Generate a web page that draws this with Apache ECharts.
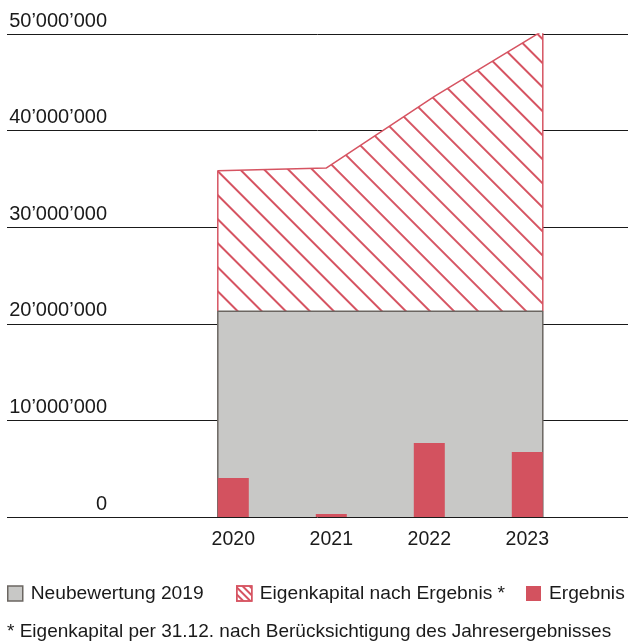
<!DOCTYPE html>
<html><head><meta charset="utf-8">
<script src="https://cdn.jsdelivr.net/npm/echarts@6/dist/echarts.min.js"></script>
<style>html,body{margin:0;padding:0;background:#fff}#c{width:628px;height:644px}</style>
</head><body><div id="c"></div>
<script>
// ---- data ----
const years = ['2020', '2021', '2022', '2023'];
const neubewertung2019 = 21300000;
const eigenkapital = [35840000, 36120000, 43550000, 50340000];
const ergebnis = [4040000, 310000, 7670000, 6730000];
const yTickMax = 50000000;
const yTickStep = 10000000;
const legendNames = ['Neubewertung 2019', 'Eigenkapital nach Ergebnis *', 'Ergebnis'];
const footnote = '* Eigenkapital per 31.12. nach Berücksichtigung des Jahresergebnisses';

// ---- layout helpers ----
const BAND = 98, BAR_W = 31;
const half = BAR_W / 2 / BAND;
const xl = -half, xr = years.length - 1 + half;
const step = (xr - xl) / (years.length - 1);
const hatchData = [[xl, neubewertung2019]]
  .concat(eigenkapital.map((v, i) => [xl + i * step, v]))
  .concat([[xr, neubewertung2019]]);
const grayData = [[xl, 0], [xl, neubewertung2019], [xr, neubewertung2019], [xr, 0]];

const RED = '#d65462', BARRED = '#d3525f', GRAY = '#c8c8c6', GRAYB = '#6b6661';
const TXT = '#1a1a1a';
const SANS = '"Liberation Sans", Arial, sans-serif';

function fmt(v) { return String(v).replace(/\B(?=(\d{3})+(?!\d))/g, '\u2019'); }

const hatchDecal = { symbol: 'rect', symbolSize: 1, color: RED, dashArrayX: [[1, 0]], dashArrayY: [1.1, 14.5], rotation: Math.PI / 4 };
const hatchDecalSmall = { symbol: 'rect', symbolSize: 1, color: RED, dashArrayX: [[1, 0]], dashArrayY: [1.2, 2.8], rotation: Math.PI / 4 };

const chart = echarts.init(document.getElementById('c'), null, { renderer: 'canvas' });
const legendText = { fontFamily: SANS, fontSize: 19.2, color: TXT, padding: [0, 0, 0, 3] };
const legendBase = { top: 584, padding: 0, itemWidth: 15, itemHeight: 15, selectedMode: false, textStyle: legendText };
chart.setOption({
  animation: false,
  backgroundColor: '#fff',
  grid: [
    { left: 7, right: 0, top: 34, bottom: 127 },
    { left: 184.3, right: 51.7, top: 34, bottom: 127 }
  ],
  xAxis: [
    { gridIndex: 0, type: 'value', min: 0, max: 1, show: false },
    { gridIndex: 1, type: 'category', data: years,
      axisLine: { show: false }, axisTick: { show: false },
      axisLabel: { fontFamily: SANS, fontSize: 19.5, color: TXT, margin: 13 } },
    { gridIndex: 1, type: 'value', min: -0.5, max: years.length - 0.5, show: false }
  ],
  yAxis: [
    { gridIndex: 0, type: 'value', min: 0, max: yTickMax, interval: yTickStep,
      axisLine: { show: false }, axisTick: { show: false },
      splitLine: { show: true, lineStyle: { color: '#1a1a1a', width: 1 } },
      axisLabel: { inside: true, margin: 100, align: 'right', verticalAlign: 'bottom',
        padding: [0, 0, 3, 0], fontFamily: SANS, fontSize: 20, color: TXT, formatter: fmt } },
    { gridIndex: 1, type: 'value', min: 0, max: yTickMax, show: false, splitLine: { show: false } }
  ],
  legend: [
    Object.assign({ left: 7, data: [{ name: legendNames[0], icon: 'rect', itemStyle: { color: GRAY, borderColor: GRAYB, borderWidth: 1.5 } }] }, legendBase),
    Object.assign({ left: 236, data: [{ name: legendNames[1], icon: 'rect', itemStyle: { color: '#fff', borderColor: RED, borderWidth: 1.5, decal: hatchDecalSmall } }] }, legendBase),
    Object.assign({ left: 526, data: [{ name: legendNames[2], icon: 'rect', itemStyle: { color: BARRED, borderWidth: 0 } }] }, legendBase)
  ],
  graphic: [
    { type: 'text', left: 7, top: 622, style: { text: footnote, font: '19px ' + SANS, fill: TXT } }
  ],
  series: [
    { name: legendNames[1], type: 'line', xAxisIndex: 2, yAxisIndex: 1, data: hatchData,
      symbol: 'none', showSymbol: false, silent: true, z: 2,
      lineStyle: { color: RED, width: 1.5 },
      itemStyle: { color: RED, decal: hatchDecal },
      areaStyle: { color: '#fff', opacity: 1 } },
    { name: legendNames[0], type: 'line', xAxisIndex: 2, yAxisIndex: 1, data: grayData,
      symbol: 'none', showSymbol: false, silent: true, z: 3,
      lineStyle: { color: GRAYB, width: 1.5 },
      itemStyle: { color: GRAY },
      areaStyle: { color: GRAY, opacity: 1 } },
    { name: legendNames[2], type: 'bar', xAxisIndex: 1, yAxisIndex: 1, data: ergebnis,
      barWidth: BAR_W, itemStyle: { color: BARRED }, silent: true, z: 6 }
  ]
});
</script></body></html>
